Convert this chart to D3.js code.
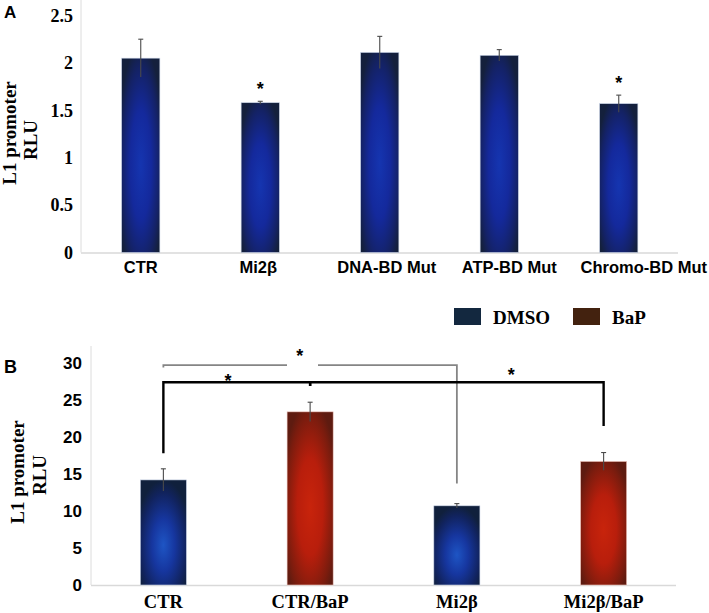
<!DOCTYPE html>
<html><head><meta charset="utf-8">
<script src="https://cdn.jsdelivr.net/npm/d3@7/dist/d3.min.js"></script>
<style>body{margin:0;background:#fff}svg{display:block}</style>
</head><body><svg id="c" width="709" height="613"></svg>
<script>
// ---- Panel A data ----
const catsA = ["CTR", "Mi2β", "DNA-BD Mut", "ATP-BD Mut", "Chromo-BD Mut"];
const valsA = [2.05, 1.58, 2.11, 2.08, 1.57];
const errsA = [0.20, 0.015, 0.17, 0.06, 0.09];
const sigA = [false, true, false, false, true];
const ticksA = [0, 0.5, 1, 1.5, 2, 2.5];

// ---- Panel B data ----
const catsB = ["CTR", "CTR/BaP", "Mi2β", "Mi2β/BaP"];
const valsB = [14.2, 23.4, 10.7, 16.7];
const errsB = [1.5, 1.3, 0.3, 1.2];
const groupB = ["DMSO", "BaP", "DMSO", "BaP"];
const ticksB = [0, 5, 10, 15, 20, 25, 30];
const legendNames = ["DMSO", "BaP"];
const legendColors = ["#13283f", "#43220f"];
// significance brackets (data units)
const bracketsB = [
  {from: "CTR", to: "Mi2β", y: 29.7, leftEnd: 29.4, rightEnd: 13.7, gray: true},
  {from: "CTR", to: "CTR/BaP", y: 27.4, leftEnd: 17.8, rightEnd: 26.9, gray: false},
  {from: "CTR/BaP", to: "Mi2β/BaP", y: 27.4, leftEnd: 26.9, rightEnd: 21.5, gray: false}
];
const starsB = [{pos: 0.93, y: 31.2}, {pos: 0.44, y: 27.9}, {pos: 2.37, y: 28.6}];

const svg = d3.select("#c");
const defs = svg.append("defs");
function radial(id, cy, stops) {
  const g = defs.append("radialGradient").attr("id", id)
    .attr("cx", 0.5).attr("cy", cy).attr("r", 0.62).attr("fx", 0.5).attr("fy", cy);
  stops.forEach(s => g.append("stop").attr("offset", s[0]).attr("stop-color", s[1]));
}
radial("gA", 0.55, [[0, "#1535b0"], [0.45, "#14299c"], [0.8, "#142266"], [1, "#14203c"]]);
radial("gBlue", 0.62, [[0, "#1e55c4"], [0.4, "#16369f"], [0.8, "#11235e"], [1, "#10203c"]]);
radial("gRed", 0.55, [[0, "#c8240c"], [0.45, "#b81e0c"], [0.85, "#7a1c0e"], [1, "#5e1b10"]]);

const serif = "'Liberation Serif','Times New Roman',serif";
const sans = "'Liberation Sans',Arial,sans-serif";

function yLabel(x1, c1, x2, c2, size) {
  const t = svg.append("g").attr("font-family", serif).attr("font-weight", "bold")
    .attr("font-size", size).attr("text-anchor", "middle");
  t.append("text").attr("transform", `translate(${x1},${c1}) rotate(-90)`).text("L1 promoter");
  t.append("text").attr("transform", `translate(${x2},${c2}) rotate(-90)`).text("RLU");
}

// ================= Panel A =================
const xA = d3.scaleBand().domain(catsA).range([81, 678.5]).paddingInner(0.68).paddingOuter(0.34);
const yA = d3.scaleLinear().domain([0, 2.5]).range([252.5, 15.5]);
const gA = svg.append("g");

gA.append("line").attr("x1", 81).attr("x2", 81).attr("y1", 0).attr("y2", yA(0))
  .attr("stroke", "#dcdcdc").attr("stroke-width", 1);
gA.append("line").attr("x1", 81).attr("x2", 678).attr("y1", yA(0) + 0.5).attr("y2", yA(0) + 0.5)
  .attr("stroke", "#d9d9d9").attr("stroke-width", 1.5);

const axA = gA.append("g").attr("transform", "translate(81,0)")
  .call(d3.axisLeft(yA).tickValues(ticksA).tickSize(0).tickPadding(8).tickFormat(d => d));
axA.select(".domain").remove();
axA.selectAll("text").attr("font-family", serif).attr("font-weight", "bold")
  .attr("font-size", 18).attr("fill", "#000");

// small horizontal nudges of the category labels, as in the original figure
const labelNudgeA = [0, -2, 7, 10, 25];
const axAx = gA.append("g").attr("transform", `translate(0,${yA(0)})`)
  .call(d3.axisBottom(xA).tickSize(0).tickPadding(9));
axAx.select(".domain").remove();
axAx.selectAll("text").attr("font-family", sans).attr("font-weight", "bold")
  .attr("font-size", 16.5).attr("fill", "#000")
  .attr("dx", (d, i) => labelNudgeA[i]);

gA.selectAll("rect.bar").data(catsA).join("rect").attr("class", "bar")
  .attr("x", d => xA(d)).attr("width", xA.bandwidth())
  .attr("y", (d, i) => yA(valsA[i])).attr("height", (d, i) => yA(0) - yA(valsA[i]))
  .attr("fill", "url(#gA)").attr("stroke", "#c9d3e6").attr("stroke-width", 0.6);

gA.selectAll("g.err").data(catsA).join("g").attr("class", "err").each(function (d, i) {
  const cx = xA(d) + xA.bandwidth() / 2;
  const g = d3.select(this);
  g.append("line").attr("x1", cx).attr("x2", cx)
    .attr("y1", yA(valsA[i] + errsA[i])).attr("y2", yA(valsA[i] - errsA[i]))
    .attr("stroke", "#4a4a4a").attr("stroke-width", 1.1);
  g.append("line").attr("x1", cx - 2.5).attr("x2", cx + 2.5)
    .attr("y1", yA(valsA[i] + errsA[i])).attr("y2", yA(valsA[i] + errsA[i]))
    .attr("stroke", "#4a4a4a").attr("stroke-width", 1.1);
});

gA.selectAll("text.star").data(catsA.filter((d, i) => sigA[i])).join("text").attr("class", "star")
  .attr("x", d => xA(d) + xA.bandwidth() / 2)
  .attr("y", d => yA(valsA[catsA.indexOf(d)] + errsA[catsA.indexOf(d)]) - 6)
  .attr("text-anchor", "middle").attr("font-family", sans).attr("font-weight", "bold")
  .attr("font-size", 18).text("*");

svg.append("text").attr("x", 4).attr("y", 18).attr("font-family", sans).attr("font-weight", "bold")
  .attr("font-size", 17).text("A");
yLabel(16, 133, 37, 140, 19);

// ================= Legend =================
const lg = svg.append("g");
const legX = [454, 573];
legendNames.forEach((n, i) => {
  lg.append("rect").attr("x", legX[i]).attr("y", 308).attr("width", 27).attr("height", 17)
    .attr("fill", legendColors[i]);
  lg.append("text").attr("x", legX[i] + 39).attr("y", 324).attr("font-family", serif)
    .attr("font-weight", "bold").attr("font-size", 19).text(n);
});

// ================= Panel B =================
const xB = d3.scaleBand().domain(catsB).range([90, 677]).paddingInner(0.686).paddingOuter(0.343);
const yB = d3.scaleLinear().domain([0, 30]).range([585, 363]);
const gB = svg.append("g");
const cxB = d => xB(d) + xB.bandwidth() / 2;

gB.append("line").attr("x1", 91).attr("x2", 91).attr("y1", 346).attr("y2", yB(0))
  .attr("stroke", "#dcdcdc").attr("stroke-width", 1);
gB.append("line").attr("x1", 91).attr("x2", 676).attr("y1", yB(0) + 0.5).attr("y2", yB(0) + 0.5)
  .attr("stroke", "#d9d9d9").attr("stroke-width", 1.5);

const axB = gB.append("g").attr("transform", "translate(91,0)")
  .call(d3.axisLeft(yB).tickValues(ticksB).tickSize(0).tickPadding(9));
axB.select(".domain").remove();
axB.selectAll("text").attr("font-family", sans).attr("font-weight", "bold")
  .attr("font-size", 17).attr("fill", "#000");

const axBx = gB.append("g").attr("transform", `translate(0,${yB(0)})`)
  .call(d3.axisBottom(xB).tickSize(0).tickPadding(10));
axBx.select(".domain").remove();
axBx.selectAll("text").attr("font-family", serif).attr("font-weight", "bold")
  .attr("font-size", 18.5).attr("fill", "#000");

gB.selectAll("rect.bar").data(catsB).join("rect").attr("class", "bar")
  .attr("x", d => xB(d)).attr("width", xB.bandwidth())
  .attr("y", (d, i) => yB(valsB[i])).attr("height", (d, i) => yB(0) - yB(valsB[i]))
  .attr("fill", (d, i) => groupB[i] === "DMSO" ? "url(#gBlue)" : "url(#gRed)")
  .attr("stroke", (d, i) => groupB[i] === "DMSO" ? "#c9d3e6" : "#f0c8c0").attr("stroke-width", 0.6);

gB.selectAll("g.err").data(catsB).join("g").attr("class", "err").each(function (d, i) {
  const cx = cxB(d);
  const g = d3.select(this);
  g.append("line").attr("x1", cx).attr("x2", cx)
    .attr("y1", yB(valsB[i] + errsB[i])).attr("y2", yB(valsB[i] - errsB[i]))
    .attr("stroke", "#4a4a4a").attr("stroke-width", 1.1);
  g.append("line").attr("x1", cx - 2.5).attr("x2", cx + 2.5)
    .attr("y1", yB(valsB[i] + errsB[i])).attr("y2", yB(valsB[i] + errsB[i]))
    .attr("stroke", "#4a4a4a").attr("stroke-width", 1.1);
});

// brackets
bracketsB.forEach(b => {
  const x1 = cxB(b.from), x2 = cxB(b.to);
  const y = yB(b.y);
  const p = d3.path();
  p.moveTo(x1, yB(b.leftEnd));
  p.lineTo(x1, y);
  p.lineTo(x2, y);
  p.lineTo(x2, yB(b.rightEnd));
  gB.append("path").attr("d", p.toString()).attr("fill", "none")
    .attr("stroke", b.gray ? "#858585" : "#000").attr("stroke-width", b.gray ? 1.8 : 2.4);
});
// gap in gray bracket behind its asterisk
gB.append("rect").attr("x", 287).attr("y", yB(29.7) - 3).attr("width", 31).attr("height", 6).attr("fill", "#fff");

gB.selectAll("text.star").data(starsB).join("text").attr("class", "star")
  .attr("x", d => cxB(catsB[0]) + d.pos * xB.step())
  .attr("y", d => yB(d.y) + 8)
  .attr("text-anchor", "middle").attr("font-family", sans).attr("font-weight", "bold")
  .attr("font-size", 18).text("*");

svg.append("text").attr("x", 4).attr("y", 373).attr("font-family", sans).attr("font-weight", "bold")
  .attr("font-size", 18).text("B");
yLabel(24, 472, 46, 475, 19);
</script>
</body></html>
